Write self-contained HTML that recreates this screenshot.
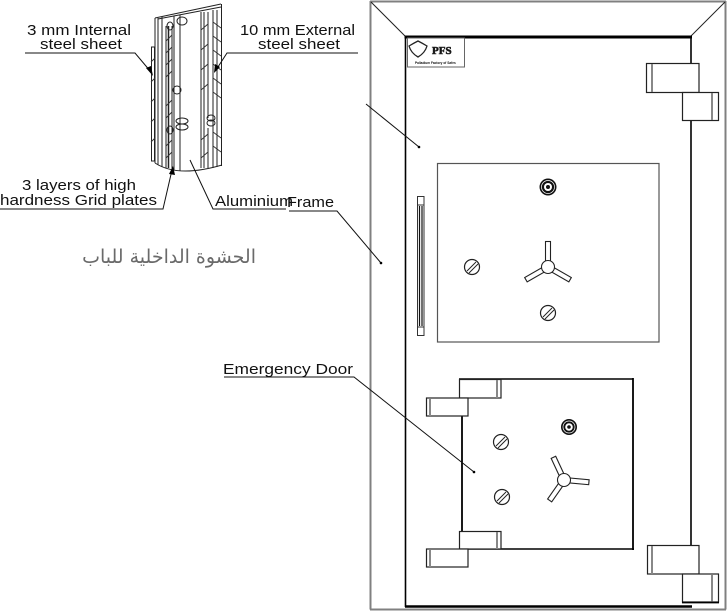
<!DOCTYPE html>
<html><head><meta charset="utf-8"><style>
html,body{margin:0;padding:0;background:#fff;}
body{position:relative;width:727px;height:611px;overflow:hidden;}
svg{display:block;}
text{font-family:"Liberation Sans","DejaVu Sans",sans-serif;fill:#111;}
#ar{position:absolute;left:60px;top:246px;width:196px;text-align:right;direction:rtl;font-family:"DejaVu Sans",sans-serif;font-size:19px;line-height:22px;color:#6a6a6a;white-space:nowrap;}
</style></head><body>
<svg width="727" height="611" viewBox="0 0 727 611" xmlns="http://www.w3.org/2000/svg">
<rect x="0" y="0" width="727" height="611" fill="#fff"/>

<!-- ===== Outer frame ===== -->
<g stroke="#808080" stroke-width="2" fill="none">
<line x1="370" y1="1.5" x2="726" y2="1.5"/>
<line x1="370.5" y1="1" x2="370.5" y2="609.5"/>
<line x1="725.5" y1="1" x2="725.5" y2="609.5"/>
<line x1="370" y1="609.5" x2="726" y2="609.5"/>
</g>
<g stroke="#222" stroke-width="1" fill="none">
<line x1="371" y1="2" x2="405" y2="36"/>
<line x1="725" y1="2" x2="691" y2="36"/>
</g>

<!-- ===== Door ===== -->
<g stroke="#000" fill="none">
<line x1="404.5" y1="37" x2="692" y2="37" stroke-width="3"/>
<line x1="405.5" y1="36" x2="405.5" y2="607" stroke-width="1.6"/>
<line x1="405" y1="606.5" x2="692" y2="606.5" stroke-width="2.6"/>
<line x1="691" y1="37" x2="691" y2="63" stroke-width="1.6"/>
<line x1="691" y1="120" x2="691" y2="545" stroke-width="1.6"/>
</g>

<!-- right hinges top -->
<g fill="#fff" stroke="#222" stroke-width="1.2">
<rect x="646.5" y="63.5" width="52.5" height="29"/>
<rect x="682.5" y="92.5" width="36" height="28"/>
</g>
<line x1="652" y1="64" x2="652" y2="92" stroke="#888" stroke-width="2"/>
<line x1="712" y1="93" x2="712" y2="120" stroke="#888" stroke-width="2"/>
<!-- right hinges bottom -->
<g fill="#fff" stroke="#222" stroke-width="1.2">
<rect x="647.5" y="545.5" width="51.5" height="28.5"/>
<rect x="682.5" y="574" width="36" height="28"/>
</g>
<line x1="652" y1="546" x2="652" y2="574" stroke="#888" stroke-width="2"/>
<line x1="712" y1="575" x2="712" y2="602" stroke="#888" stroke-width="2"/>
<line x1="682" y1="602.5" x2="719" y2="602.5" stroke="#000" stroke-width="1.8"/>

<!-- logo box -->
<rect x="407.5" y="38" width="57" height="29" fill="#fff" stroke="#666" stroke-width="1"/>
<path d="M409 46 Q414 43 418 41 Q422 43 427 46 Q425 53 418 57 Q411 53 409 46 Z" fill="none" stroke="#222" stroke-width="1.3"/>
<text x="432" y="54" font-size="11" font-weight="bold" fill="#fff" stroke="#222" stroke-width="0.6" style="font-family:'Liberation Serif',serif;">PFS</text>
<text x="415" y="64" font-size="3.2" font-weight="bold">Palladium Factory of Safes</text>

<!-- handle bar -->
<g fill="#fff" stroke="#333" stroke-width="1">
<rect x="417.5" y="196.5" width="6.5" height="139"/>
<line x1="417.5" y1="205" x2="424" y2="205"/>
<line x1="417.5" y1="327" x2="424" y2="327"/>
</g>
<line x1="419.5" y1="206" x2="419.5" y2="326" stroke="#111" stroke-width="1.2"/>
<line x1="422" y1="206" x2="422" y2="326" stroke="#111" stroke-width="1.2"/>

<!-- upper panel -->
<rect x="437.5" y="163.5" width="221.5" height="178.5" fill="none" stroke="#555" stroke-width="1.2"/>
<!-- keyhole -->
<circle cx="548" cy="187" r="8.5" fill="#111"/>
<circle cx="548" cy="187" r="6.5" fill="none" stroke="#fff" stroke-width="0.7"/>
<circle cx="548" cy="187" r="4" fill="#fff"/>
<circle cx="548" cy="187" r="2" fill="#111"/>
<!-- handle -->
<g stroke="#222" stroke-width="1.1" fill="#fff">
<rect x="545.5" y="241.5" width="5" height="20"/>
<g transform="rotate(120 548 267)"><rect x="545.5" y="241.5" width="5" height="20"/></g>
<g transform="rotate(240 548 267)"><rect x="545.5" y="241.5" width="5" height="20"/></g>
<circle cx="548" cy="267" r="6.5"/>
</g>
<!-- bolts -->
<g stroke="#222" stroke-width="1.2" fill="#fff">
<circle cx="472" cy="267" r="7.5"/>
<circle cx="548" cy="313" r="7.5"/>
</g>
<g stroke="#222" stroke-width="1">
<line x1="467" y1="271" x2="476" y2="262"/><line x1="469" y1="273" x2="478" y2="264"/>
<line x1="543" y1="317" x2="552" y2="308"/><line x1="545" y1="319" x2="554" y2="310"/>
</g>

<!-- ===== Emergency door ===== -->
<g stroke="#000" fill="none">
<line x1="459" y1="379" x2="633" y2="379" stroke-width="1.6"/>
<line x1="633" y1="378" x2="633" y2="550" stroke-width="1.8"/>
<line x1="462" y1="416" x2="462" y2="531" stroke-width="1.8"/>
<line x1="468" y1="549" x2="634" y2="549" stroke-width="1.6"/>
</g>
<g fill="#fff" stroke="#222" stroke-width="1.2">
<rect x="459.5" y="379.5" width="41.5" height="18.5"/>
<rect x="426.5" y="398" width="41.5" height="18"/>
<rect x="459.5" y="531.5" width="41.5" height="17.5"/>
<rect x="426.5" y="549" width="41.5" height="18"/>
</g>
<g stroke="#888" stroke-width="2">
<line x1="497" y1="380" x2="497" y2="398"/>
<line x1="430" y1="399" x2="430" y2="416"/>
<line x1="497" y1="532" x2="497" y2="549"/>
<line x1="430" y1="550" x2="430" y2="567"/>
</g>
<!-- keyhole -->
<circle cx="569" cy="427" r="8" fill="#111"/>
<circle cx="569" cy="427" r="6" fill="none" stroke="#fff" stroke-width="0.7"/>
<circle cx="569" cy="427" r="3.8" fill="#fff"/>
<circle cx="569" cy="427" r="1.8" fill="#111"/>
<!-- handle -->
<g stroke="#222" stroke-width="1.1" fill="#fff">
<g transform="rotate(-25 564 480)"><rect x="561.5" y="455" width="5" height="20"/></g>
<g transform="rotate(95 564 480)"><rect x="561.5" y="455" width="5" height="20"/></g>
<g transform="rotate(215 564 480)"><rect x="561.5" y="455" width="5" height="20"/></g>
<circle cx="564" cy="480" r="6.5"/>
</g>
<!-- bolts -->
<g stroke="#222" stroke-width="1.2" fill="#fff">
<circle cx="501" cy="442" r="7.5"/>
<circle cx="502" cy="497" r="7.5"/>
</g>
<g stroke="#222" stroke-width="1">
<line x1="496" y1="446" x2="505" y2="437"/><line x1="498" y1="448" x2="507" y2="439"/>
<line x1="497" y1="501" x2="506" y2="492"/><line x1="499" y1="503" x2="508" y2="494"/>
</g>

<!-- ===== Leaders on right ===== -->
<g stroke="#111" stroke-width="1" fill="none">
<line x1="366" y1="104" x2="419" y2="147"/>
<polyline points="289,211 337,211 381,263"/>
<polyline points="224,377 354,377 474,472"/>
</g>
<circle cx="419" cy="147" r="1.3" fill="#000"/>
<circle cx="381" cy="263" r="1.3" fill="#000"/>
<circle cx="474" cy="472" r="1.3" fill="#000"/>

<!-- ===== Section detail (left) ===== -->
<g stroke="#222" stroke-width="1" fill="none">
<rect x="151.5" y="47" width="3" height="114"/>
<line x1="155" y1="18" x2="155" y2="163"/>
<line x1="155" y1="18" x2="221" y2="4"/>
<line x1="158" y1="19" x2="221" y2="7"/>
<line x1="221.5" y1="4" x2="221.5" y2="166"/>
<path d="M155 163 Q178 178 222 165"/>
<line x1="158" y1="18" x2="158" y2="165"/>
<line x1="162" y1="17" x2="162" y2="167"/>
<line x1="166" y1="26" x2="166" y2="168"/>
<line x1="168.5" y1="26" x2="168.5" y2="168" stroke-width="1.5"/>
<line x1="172" y1="26" x2="172" y2="169"/>
<line x1="174" y1="16" x2="174" y2="170"/>
<line x1="180" y1="15" x2="180" y2="171"/>
<line x1="201" y1="12" x2="201" y2="168"/>
<line x1="204" y1="12" x2="204" y2="168"/>
<line x1="208" y1="12" x2="208" y2="118"/>
<line x1="208" y1="128" x2="208" y2="168"/>
<line x1="213" y1="10" x2="213" y2="168"/>
<line x1="217" y1="10" x2="217" y2="167"/>
<ellipse cx="182" cy="21" rx="5" ry="4"/>
<ellipse cx="177" cy="90" rx="4" ry="4"/>
<ellipse cx="182" cy="121" rx="6" ry="3"/>
<ellipse cx="182" cy="127" rx="6" ry="3"/>
<ellipse cx="170" cy="130" rx="3" ry="4"/>
<ellipse cx="211" cy="118" rx="4" ry="3"/>
<ellipse cx="211" cy="123" rx="4" ry="3"/>
<ellipse cx="170" cy="26" rx="3" ry="4"/>
</g>
<g stroke="#333" stroke-width="0.9">
<line x1="155" y1="58" x2="151" y2="62"/><line x1="155" y1="78" x2="151" y2="82"/>
<line x1="155" y1="98" x2="151" y2="102"/><line x1="155" y1="118" x2="151" y2="122"/>
<line x1="155" y1="138" x2="151" y2="142"/>
<line x1="172" y1="35" x2="166" y2="41"/><line x1="172" y1="47" x2="166" y2="53"/>
<line x1="172" y1="59" x2="166" y2="65"/><line x1="172" y1="71" x2="166" y2="77"/>
<line x1="172" y1="100" x2="166" y2="106"/><line x1="172" y1="112" x2="166" y2="118"/>
<line x1="172" y1="140" x2="166" y2="146"/><line x1="172" y1="152" x2="166" y2="158"/>
<line x1="213" y1="22" x2="221" y2="28"/><line x1="213" y1="36" x2="221" y2="42"/>
<line x1="213" y1="50" x2="221" y2="56"/><line x1="213" y1="64" x2="221" y2="70"/>
<line x1="213" y1="78" x2="221" y2="84"/><line x1="213" y1="92" x2="221" y2="98"/>
<line x1="213" y1="132" x2="221" y2="138"/><line x1="213" y1="146" x2="221" y2="152"/>
<line x1="201" y1="30" x2="208" y2="24"/><line x1="201" y1="50" x2="208" y2="44"/>
<line x1="201" y1="70" x2="208" y2="64"/><line x1="201" y1="90" x2="208" y2="84"/>
<line x1="201" y1="140" x2="208" y2="134"/><line x1="201" y1="158" x2="208" y2="152"/>
</g>

<!-- left leaders -->
<g stroke="#111" stroke-width="1" fill="none">
<polyline points="25,53 135,53 151,72"/>
<polyline points="358,53 227,53 216,70"/>
<polyline points="0,209 163,209 172,170"/>
<polyline points="286,209 213,209 190,160"/>
</g>
<g fill="#000">
<polygon points="153,76 146,68 151,66"/>
<polygon points="214,73 215,64 220,67"/>
<polygon points="173,166 175,175 169,174"/>
</g>

<!-- labels -->
<g font-size="15">
<text x="27" y="35" textLength="104" lengthAdjust="spacingAndGlyphs">3 mm Internal</text>
<text x="40" y="49" textLength="82" lengthAdjust="spacingAndGlyphs">steel sheet</text>
<text x="240" y="35" textLength="115" lengthAdjust="spacingAndGlyphs">10 mm External</text>
<text x="258" y="49" textLength="82" lengthAdjust="spacingAndGlyphs">steel sheet</text>
<text x="22" y="190" textLength="114" lengthAdjust="spacingAndGlyphs">3 layers of high</text>
<text x="0" y="205" textLength="157" lengthAdjust="spacingAndGlyphs">hardness Grid plates</text>
<text x="215" y="206" textLength="78" lengthAdjust="spacingAndGlyphs">Aluminium</text>
<text x="287" y="207" textLength="47" lengthAdjust="spacingAndGlyphs">Frame</text>
<text x="223" y="374" textLength="130" lengthAdjust="spacingAndGlyphs">Emergency Door</text>
</g>
</svg>
<div id="ar">الحشوة الداخلية للباب</div>
</body></html>
